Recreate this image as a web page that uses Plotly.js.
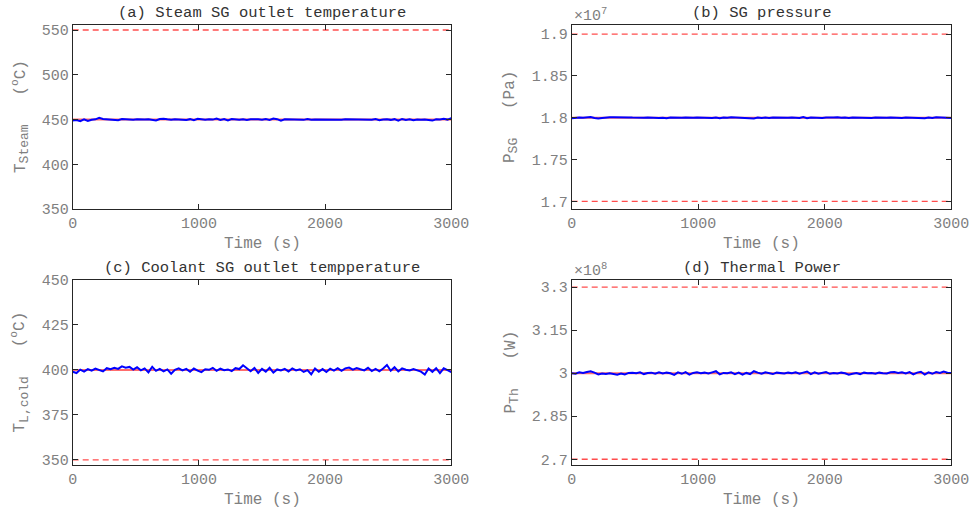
<!DOCTYPE html>
<html>
<head>
<meta charset="utf-8">
<script src="https://cdn.plot.ly/plotly-3.0.1.min.js"></script>
<style>html,body{margin:0;padding:0;background:#fff}#chart{width:971px;height:512px}</style>
</head>
<body>
<div id="chart"></div>
<script>
// ---- data ----
const time = [0,30,60,90,120,150,180,210,240,270,300,330,360,390,420,450,480,510,540,570,600,630,660,690,720,750,780,810,840,870,900,930,960,990,1020,1050,1080,1110,1140,1170,1200,1230,1260,1290,1320,1350,1380,1410,1440,1470,1500,1530,1560,1590,1620,1650,1680,1710,1740,1770,1800,1830,1860,1890,1920,1950,1980,2010,2040,2070,2100,2130,2160,2190,2220,2250,2280,2310,2340,2370,2400,2430,2460,2490,2520,2550,2580,2610,2640,2670,2700,2730,2760,2790,2820,2850,2880,2910,2940,2970,3000];

// (a) steam SG outlet temperature, degC
const steamTemp = [449.0,449.5,448.2,450.3,448.5,449.8,450.2,451.8,450.6,450.3,450.4,450.1,449.3,450.5,450.0,450.2,449.7,450.3,449.9,450.1,450.4,449.6,448.9,450.6,450.9,450.2,449.6,450.3,450.1,449.8,449.5,450.4,449.2,450.8,450.0,449.7,450.3,449.9,451.0,449.4,450.6,448.9,450.5,450.1,449.6,450.3,449.5,450.4,449.9,450.2,449.8,450.5,449.5,451.1,450.4,448.8,450.2,450.0,449.7,450.3,450.1,449.6,450.5,449.8,450.1,450.0,449.7,450.2,450.3,449.8,450.0,449.6,450.2,450.1,449.9,450.4,449.7,450.0,450.2,449.8,450.5,449.3,450.1,450.3,449.6,450.4,448.6,450.6,449.5,450.2,449.2,450.0,449.6,450.1,449.4,448.8,450.2,449.9,450.7,449.9,451.5];
const steamRef = [450, 450];
const steamLimits = [550];

// (b) SG pressure, Pa
const sgPressure = [1.7992e7,1.7997e7,1.8002e7,1.7998e7,1.8004e7,1.8008e7,1.7996e7,1.7990e7,1.7997e7,1.8003e7,1.8005e7,1.8004e7,1.8006e7,1.8005e7,1.8008e7,1.8003e7,1.8001e7,1.7998e7,1.8002e7,1.8000e7,1.8003e7,1.7999e7,1.8002e7,1.7997e7,1.8000e7,1.7992e7,1.8001e7,1.7998e7,1.8003e7,1.7999e7,1.8002e7,1.7997e7,1.8000e7,1.8001e7,1.7998e7,1.8003e7,1.8000e7,1.7996e7,1.8002e7,1.7994e7,1.8001e7,1.7998e7,1.8004e7,1.8002e7,1.8005e7,1.8001e7,1.8003e7,1.7997e7,1.7991e7,1.8002e7,1.7995e7,1.8001e7,1.7997e7,1.8003e7,1.8000e7,1.7998e7,1.8002e7,1.7999e7,1.8003e7,1.8000e7,1.7996e7,1.8007e7,1.7994e7,1.8002e7,1.7997e7,1.8001e7,1.7995e7,1.8002e7,1.7999e7,1.8003e7,1.8006e7,1.7998e7,1.8001e7,1.7996e7,1.8002e7,1.8000e7,1.8003e7,1.7998e7,1.8001e7,1.7997e7,1.8002e7,1.8000e7,1.8006e7,1.7998e7,1.8003e7,1.7999e7,1.8002e7,1.7997e7,1.8001e7,1.7999e7,1.8002e7,1.7996e7,1.8000e7,1.7992e7,1.8002e7,1.7997e7,1.8004e7,1.8001e7,1.8006e7,1.7998e7,1.7997e7];
const pressureRef = [1.8e7, 1.8e7];
const pressureLimits = [1.9e7, 1.7e7];
const pressureTicks = [1.7e7, 1.75e7, 1.8e7, 1.85e7, 1.9e7];
const pressureTickText = ['1.7', '1.75', '1.8', '1.85', '1.9'];

// (c) coolant SG outlet temperature, degC
const coolantTemp = [399.0,398.3,400.2,399.1,400.5,399.6,400.8,400.1,399.2,401.0,400.4,401.2,400.6,402.0,401.3,401.7,400.2,401.5,399.8,400.9,398.7,401.8,399.5,400.6,399.2,400.3,397.9,400.1,400.9,399.8,400.6,399.0,400.8,399.6,398.8,400.4,400.1,401.2,399.5,400.7,399.9,400.3,399.4,401.0,400.5,402.6,400.9,399.3,401.1,398.4,400.6,399.1,401.2,398.5,400.3,399.7,400.6,399.2,400.9,399.8,400.4,398.9,399.9,397.6,400.8,399.0,400.5,398.9,400.7,399.6,401.0,399.5,400.9,401.3,400.2,401.1,400.4,399.8,401.2,399.4,400.6,399.3,400.8,402.8,399.6,401.5,399.2,400.9,400.1,399.7,400.5,399.9,399.1,397.5,400.8,399.0,401.0,398.3,400.9,399.9,398.8];
const coolantRef = [400, 400];
const coolantLimits = [350];

// (d) thermal power, W
const thermalPower = [3.000e8,2.998e8,3.003e8,3.001e8,3.004e8,3.007e8,3.002e8,2.996e8,2.999e8,2.997e8,3.000e8,2.998e8,2.995e8,2.999e8,2.996e8,3.001e8,3.002e8,3.000e8,3.003e8,2.997e8,3.001e8,3.002e8,2.998e8,3.003e8,2.999e8,3.002e8,3.000e8,2.994e8,3.003e8,2.998e8,3.004e8,2.995e8,3.001e8,3.003e8,3.000e8,3.002e8,2.999e8,3.003e8,3.007e8,2.996e8,3.001e8,3.000e8,3.003e8,2.997e8,3.002e8,2.995e8,3.001e8,2.997e8,3.007e8,3.002e8,2.998e8,3.003e8,3.000e8,2.997e8,3.002e8,3.000e8,2.999e8,3.002e8,3.000e8,3.003e8,2.998e8,3.002e8,3.006e8,2.997e8,3.003e8,2.998e8,3.001e8,3.004e8,2.998e8,3.001e8,2.999e8,3.002e8,3.000e8,2.995e8,2.998e8,3.001e8,2.997e8,3.002e8,3.000e8,3.001e8,2.998e8,3.002e8,3.000e8,2.999e8,3.003e8,3.004e8,3.001e8,3.003e8,2.999e8,3.004e8,2.996e8,3.002e8,3.005e8,2.995e8,3.003e8,2.998e8,3.004e8,3.001e8,3.006e8,3.002e8,3.001e8];
const powerRef = [3e8, 3e8];
const powerLimits = [3.3e8, 2.7e8];
const powerTicks = [2.7e8, 2.85e8, 3e8, 3.15e8, 3.3e8];
const powerTickText = ['2.7', '2.85', '3', '3.15', '3.3'];

const timeSpan = [0, 3000];
const timeTicks = [0, 1000, 2000, 3000];

const panelTitles = ['(a) Steam SG outlet temperature', '(b) SG pressure', '(c) Coolant SG outlet tempperature', '(d) Thermal Power'];
const SUB = s => '<sub><span style="font-size:13px">' + s + '</span></sub>';
const yTitles = ['T' + SUB('Steam') + '\u00a0\u00a0\u00a0(<sup>o</sup>C)', 'P' + SUB('SG') + '\u00a0\u00a0\u00a0(Pa)', 'T' + SUB('L,cold') + '\u00a0\u00a0\u00a0(<sup>o</sup>C)', 'P' + SUB('Th') + '\u00a0\u00a0\u00a0(W)'];
const xTitle = 'Time (s)';

// ---- styling ----
const FONT = '"Liberation Mono", "Courier New", monospace';
const W = 971, H = 512;
const px = v => v / W;
const py = v => 1 - v / H;

const panels = [
  {series: steamTemp, ref: steamRef, limits: steamLimits, range: [350, 555.6], tickvals: [350,400,450,500,550], ticktext: null,
   x0: 72.7, x1: 451.3, y0: 25, y1: 209, exp: null},
  {series: sgPressure, ref: pressureRef, limits: pressureLimits, range: [1.6908e7, 1.9108e7], tickvals: pressureTicks, ticktext: pressureTickText,
   x0: 571.7, x1: 951.3, y0: 25, y1: 209, exp: '7'},
  {series: coolantTemp, ref: coolantRef, limits: coolantLimits, range: [347.2, 450], tickvals: [350,375,400,425,450], ticktext: null,
   x0: 72.7, x1: 451.3, y0: 280, y1: 465, exp: null},
  {series: thermalPower, ref: powerRef, limits: powerLimits, range: [2.68e8, 3.325e8], tickvals: powerTicks, ticktext: powerTickText,
   x0: 571.7, x1: 951.3, y0: 280, y1: 465, exp: '8'}
];

const traces = [];
const layout = {
  width: W, height: H,
  margin: {l: 0, r: 0, t: 0, b: 0},
  paper_bgcolor: '#ffffff', plot_bgcolor: '#ffffff',
  showlegend: false,
  font: {family: FONT, size: 15, color: '#808080'},
  annotations: []
};

panels.forEach((p, i) => {
  const n = i === 0 ? '' : String(i + 1);
  const xa = 'x' + n, ya = 'y' + n;
  p.limits.forEach(lv => {
    traces.push({x: timeSpan, y: [lv, lv], xaxis: xa, yaxis: ya, mode: 'lines',
      line: {color: '#ff4d4d', width: 1.3, dash: '6px,4px'}, hoverinfo: 'skip'});
  });
  traces.push({x: timeSpan, y: p.ref, xaxis: xa, yaxis: ya, mode: 'lines',
    line: {color: 'rgba(255,60,60,0.75)', width: 2}, hoverinfo: 'skip'});
  traces.push({x: time, y: p.series, xaxis: xa, yaxis: ya, mode: 'lines',
    line: {color: '#0000ff', width: 2}});

  const common = {showline: true, mirror: 'ticks', linecolor: '#262626', linewidth: 1,
    ticks: 'inside', ticklen: 5, tickcolor: '#262626', tickwidth: 1,
    showgrid: false, zeroline: false, fixedrange: true,
    tickfont: {family: FONT, size: 15, color: '#808080'}};
  layout['xaxis' + n] = Object.assign({}, common, {
    domain: [px(p.x0), px(p.x1)], anchor: ya, range: [0, 3000],
    tickmode: 'array', tickvals: timeTicks});
  const yax = Object.assign({}, common, {
    domain: [py(p.y1), py(p.y0)], anchor: xa, range: p.range,
    tickmode: 'array', tickvals: p.tickvals});
  if (p.ticktext) yax.ticktext = p.ticktext;
  layout['yaxis' + n] = yax;

  const cx = (p.x0 + p.x1) / 2;
  const cy = (p.y0 + p.y1) / 2;
  layout.annotations.push({text: panelTitles[i], xref: 'paper', yref: 'paper',
    x: px(cx), y: py(p.y0 - 12), xanchor: 'center', yanchor: 'middle', showarrow: false,
    font: {family: FONT, size: 15.5, color: '#333333'}});
  layout.annotations.push({text: xTitle, xref: 'paper', yref: 'paper',
    x: px(cx), y: py(p.y1 + 35), xanchor: 'center', yanchor: 'middle', showarrow: false,
    font: {family: FONT, size: 16, color: '#808080'}});
  const ytx = p.x0 < 300 ? 20 : 511;
  layout.annotations.push({text: yTitles[i], xref: 'paper', yref: 'paper',
    x: px(ytx), y: py(cy), xanchor: 'center', yanchor: 'middle', showarrow: false, textangle: -90,
    font: {family: FONT, size: 16, color: '#808080'}});
  if (p.exp) {
    layout.annotations.push({text: '\u00d710<sup>' + p.exp + '</sup>', xref: 'paper', yref: 'paper',
      x: px(p.x0), y: py(p.y0 - 10), xanchor: 'left', yanchor: 'middle', showarrow: false,
      font: {family: FONT, size: 15, color: '#808080'}});
  }
});

Plotly.newPlot('chart', traces, layout, {displayModeBar: false, staticPlot: true});
</script>
</body>
</html>
